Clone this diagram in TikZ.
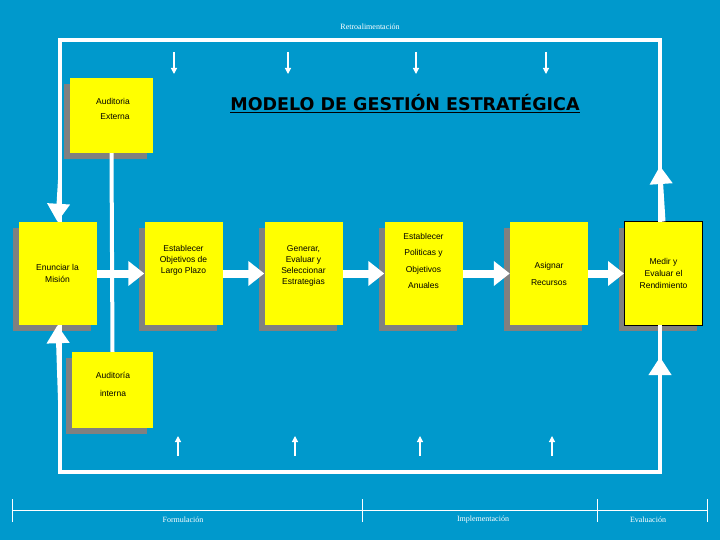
\documentclass[tikz,border=0pt]{standalone}
\usepackage{fontspec}
\setmainfont{Liberation Serif}
\newfontfamily\boxfont{Liberation Sans}
\newfontfamily\titlefont{DejaVu Sans}
\usetikzlibrary{arrows.meta}
\definecolor{bg}{RGB}{0,153,204}
\definecolor{shad}{RGB}{128,128,128}
\definecolor{yel}{RGB}{255,255,0}
\tikzset{
 ybox/.style={fill=yel,minimum width=78pt,minimum height=103pt,inner sep=2pt,align=center,font=\boxfont\fontsize{8.5}{12}\selectfont,
   preaction={fill=shad,transform canvas={xshift=-6pt,yshift=-6pt}}},
 frame/.style={white,line width=4pt},
 bigarr/.style={white,line width=8pt,-{Triangle[width=24pt,length=16pt]}},
 varr/.style={white,line width=4pt,-{Triangle[width=22pt,length=18pt]}},
 thinarr/.style={white,line width=1.2pt,-{Triangle[width=6pt,length=6pt]}},
 lbl/.style={white,font=\fontsize{8}{10}\selectfont},
 btxt/.style={align=center,font=\boxfont\fontsize{8.5}{#1}\selectfont},
 btxt/.default=11
}
\begin{document}
\begin{tikzpicture}[x=1pt,y=-1pt]
\fill[bg] (0,0) rectangle (720,540);
\useasboundingbox (0,0) rectangle (720,540);
\node[lbl] (retro) at (370,27) {Retroalimentación};
% boxes
\node[ybox,minimum width=83pt,minimum height=75pt] (ae) at (111.5,115.5) {};
\node[btxt] (aet1) at (113,101) {Auditoria};
\node[btxt] (aet2) at (115,117) {Externa};
\node[ybox,minimum width=81pt,minimum height=76pt] (ai) at (112.5,390) {};
\node[btxt] (ait1) at (113,375) {Auditoría};
\node[btxt] (ait2) at (113,393) {interna};
\node[ybox] (b1) at (57.5,273.5) {Enunciar la\\Misión};
\node[ybox] (b2) at (183.5,273.5) {};
\node[btxt] (t2) at (183.5,260) {Establecer\\Objetivos de\\Largo Plazo};
\node[ybox] (b3) at (303.5,273.5) {};
\node[btxt] (t3) at (303.5,266) {Generar,\\Evaluar y\\Seleccionar\\Estrategias};
\node[ybox] (b4) at (423.5,273.5) {};
\node[btxt=16.5] (t4) at (423.5,261) {Establecer\\Politicas y\\Objetivos\\Anuales};
\node[ybox] (b5) at (549,273.5) {};
\node[btxt=17] (t5) at (549,274) {Asignar\\Recursos};
\node[ybox,draw=black,line width=1pt] (b6) at (663.5,273.5) {Medir y\\Evaluar el\\Rendimiento};
% title
\node[font=\titlefont\bfseries\fontsize{17.5}{20}\selectfont] (title) at (405,104) {\underline{MODELO DE GESTIÓN ESTRATÉGICA}};
% frame
\coordinate (tl) at (60,40); \coordinate (tr) at (660,40);
\coordinate (bl) at (60,472); \coordinate (br) at (660,472);
\draw[frame] (60,222) -- (tl) -- (tr) -- (660,222);
\draw[frame] (60,325) -- (bl) -- (br) -- (660,325);
\draw[varr] (60,180) -- (b1.north);
\draw[varr] (60,400) -- (b1.south);
\draw[varr] (b6.north) -- (660,166);
\draw[varr] (br) -- (660,357);
\draw[white,line width=4pt] (ae.south) -- (ai.north);
% horizontal arrows
\draw[bigarr] (b1.east) -- (b2.west);
\draw[bigarr] (b2.east) -- (b3.west);
\draw[bigarr] (b3.east) -- (b4.west);
\draw[bigarr] (b4.east) -- (b5.west);
\draw[bigarr] (b5.east) -- (b6.west);
% thin arrows
\foreach \x in {174,288,416,546} { \draw[thinarr] (\x,52) -- (\x,74); }
\foreach \x in {178,295,420,552} { \draw[thinarr] (\x,456) -- (\x,436); }
% bottom axis
\draw[white,line width=0.7pt] (12,510) -- (707,510);
\foreach \x in {12,362,597,707} { \draw[white,line width=0.7pt] (\x,499) -- (\x,522); }
\node[lbl] (f) at (183,520) {Formulación};
\node[lbl] (i) at (483,520) {Implementación};
\node[lbl] (e) at (648,520) {Evaluación};
\end{tikzpicture}
\end{document}
